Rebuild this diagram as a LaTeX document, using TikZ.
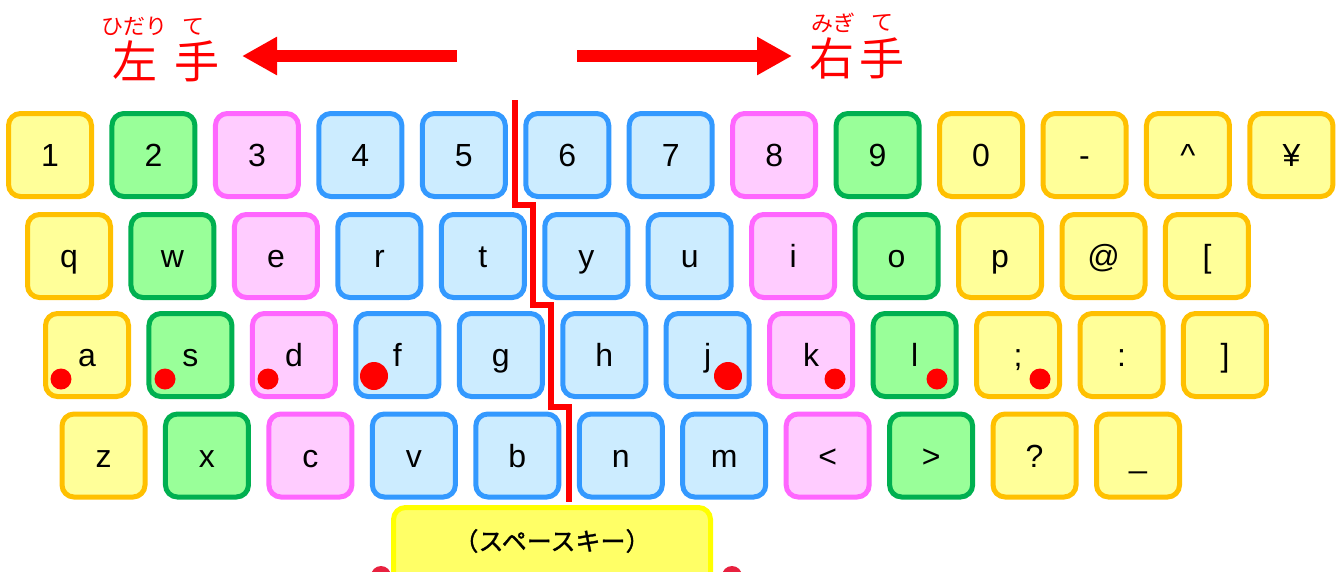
\documentclass[tikz,border=0pt]{standalone}
\usepackage{fontspec}
\setmainfont{Liberation Sans}
\newfontfamily\jpfont{Noto Sans CJK JP}
\newfontfamily\jpboldfont[FakeBold=1.3]{Noto Sans CJK JP}
\usetikzlibrary{arrows.meta}
\definecolor{yBd}{HTML}{FFC000}
\definecolor{yFl}{HTML}{FFFF99}
\definecolor{gBd}{HTML}{00B050}
\definecolor{gFl}{HTML}{99FF99}
\definecolor{pBd}{HTML}{FF66FF}
\definecolor{pFl}{HTML}{FFCCFF}
\definecolor{bBd}{HTML}{3399FF}
\definecolor{bFl}{HTML}{CCECFF}
\definecolor{sBd}{HTML}{FFFF00}
\definecolor{sFl}{HTML}{FFFF66}
\definecolor{blob}{HTML}{E8213F}
\tikzset{
  keybase/.style={rectangle, rounded corners=12pt, line width=5pt, minimum width=83pt, minimum height=83pt, inner sep=0pt,
    text height=23pt, text depth=0pt, font=\fontsize{32}{32}\selectfont},
  keyY/.style={keybase, draw=yBd, fill=yFl},
  keyG/.style={keybase, draw=gBd, fill=gFl},
  keyP/.style={keybase, draw=pBd, fill=pFl},
  keyB/.style={keybase, draw=bBd, fill=bFl},
  homedot/.style={circle, fill=red, inner sep=0pt, minimum size=21pt},
  bigdot/.style={circle, fill=red, inner sep=0pt, minimum size=28pt},
  bigkanji/.style={text=red, inner sep=0pt, font=\jpfont\fontsize{45}{45}\selectfont},
  rubytext/.style={text=red, inner sep=0pt, font=\jpfont\fontsize{22}{22}\selectfont},
  handarrow/.style={red, line width=12pt, -{Triangle[length=35pt,width=36pt]}},
  divider/.style={red, line width=6pt, line join=miter},
}
\begin{document}
\begin{tikzpicture}[x=1pt,y=-1pt]
\useasboundingbox (0,0) rectangle (1339,571);
\clip (0,0) rectangle (1339,571);
\fill[white] (0,0) rectangle (1339,571);

% headings
\node[rubytext] (rhidari) at (134,26.5) {ひだり};
\node[rubytext] (rte1) at (193.5,26.5) {て};
\node[bigkanji] (khidari) at (135,61) {左};
\node[bigkanji] (kte1) at (197,61) {手};
\node[rubytext] (rmigi) at (833.5,22.5) {みぎ};
\node[rubytext] (rte2) at (882.5,22.5) {て};
\node[bigkanji] (kmigi) at (832,58.5) {右};
\node[bigkanji] (kte2) at (882,58.5) {手};

\coordinate (la0) at (457,56);
\coordinate (la1) at (242,56);
\coordinate (ra0) at (577,56);
\coordinate (ra1) at (792,56);
\draw[handarrow] (la0) -- (la1);
\draw[handarrow] (ra0) -- (ra1);

% row 1
\node[keyY] (k1) at ({50+103.45*0},155) {1};
\node[keyG] (k2) at ({50+103.45*1},155) {2};
\node[keyP] (k3) at ({50+103.45*2},155) {3};
\node[keyB] (k4) at ({50+103.45*3},155) {4};
\node[keyB] (k5) at ({50+103.45*4},155) {5};
\node[keyB] (k6) at ({50+103.45*5},155) {6};
\node[keyB] (k7) at ({50+103.45*6},155) {7};
\node[keyP] (k8) at ({50+103.45*7},155) {8};
\node[keyG] (k9) at ({50+103.45*8},155) {9};
\node[keyY] (k0) at ({50+103.45*9},155) {0};
\node[keyY] (kminus) at ({50+103.45*10},155) {-};
\node[keyY] (kcaret) at ({50+103.45*11},155) {\textasciicircum};
\node[keyY] (kyen) at ({50+103.45*12},155) {¥};

% row 2
\node[keyY] (kq) at ({69+103.45*0},256) {q};
\node[keyG] (kw) at ({69+103.45*1},256) {w};
\node[keyP] (ke) at ({69+103.45*2},256) {e};
\node[keyB] (kr) at ({69+103.45*3},256) {r};
\node[keyB] (kt) at ({69+103.45*4},256) {t};
\node[keyB] (ky) at ({69+103.45*5},256) {y};
\node[keyB] (ku) at ({69+103.45*6},256) {u};
\node[keyP] (ki) at ({69+103.45*7},256) {i};
\node[keyG] (ko) at ({69+103.45*8},256) {o};
\node[keyY] (kp) at ({69+103.45*9},256) {p};
\node[keyY] (kat) at ({69+103.45*10},256) {@};
\node[keyY] (klbr) at ({69+103.45*11},256) {[};

% row 3
\node[keyY] (ka) at ({87+103.45*0},355) {a};
\node[keyG] (ks) at ({87+103.45*1},355) {s};
\node[keyP] (kd) at ({87+103.45*2},355) {d};
\node[keyB] (kf) at ({87+103.45*3},355) {f};
\node[keyB] (kg) at ({87+103.45*4},355) {g};
\node[keyB] (kh) at ({87+103.45*5},355) {h};
\node[keyB] (kj) at ({87+103.45*6},355) {j};
\node[keyP] (kk) at ({87+103.45*7},355) {k};
\node[keyG] (kl) at ({87+103.45*8},355) {l};
\node[keyY] (ksemi) at ({87+103.45*9},355) {;};
\node[keyY] (kcolon) at ({87+103.45*10},355) {:};
\node[keyY] (krbr) at ({87+103.45*11},355) {]};

% row 4
\node[keyY] (kz) at ({103.5+103.45*0},455.5) {z};
\node[keyG] (kx) at ({103.5+103.45*1},455.5) {x};
\node[keyP] (kc) at ({103.5+103.45*2},455.5) {c};
\node[keyB] (kv) at ({103.5+103.45*3},455.5) {v};
\node[keyB] (kb) at ({103.5+103.45*4},455.5) {b};
\node[keyB] (kn) at ({103.5+103.45*5},455.5) {n};
\node[keyB] (km) at ({103.5+103.45*6},455.5) {m};
\node[keyP] (klt) at ({103.5+103.45*7},455.5) {<};
\node[keyG] (kgt) at ({103.5+103.45*8},455.5) {>};
\node[keyY] (kq2) at ({103.5+103.45*9},455.5) {?};
\node[keyY] (kus) at ({103.5+103.45*10},455.5) {\_};

% home-position dots
\node[homedot] (da) at (61,379) {};
\node[homedot] (ds) at (165,379) {};
\node[homedot] (dd) at (268,379) {};
\node[bigdot] (df) at (374,376) {};
\node[bigdot] (dj) at (728,376) {};
\node[homedot] (dk) at (835,379) {};
\node[homedot] (dl) at (937,379) {};
\node[homedot] (dsemi) at (1040,379) {};

% divider
\coordinate (v0) at (515,100);
\coordinate (v1) at (515,205);
\coordinate (v2) at (533,205);
\coordinate (v3) at (533,305);
\coordinate (v4) at (551,305);
\coordinate (v5) at (551,407);
\coordinate (v6) at (569,407);
\coordinate (v7) at (569,502);
\draw[divider] (v0) -- (v1) -- (v2) -- (v3) -- (v4) -- (v5) -- (v6) -- (v7);

% space bar
\draw[draw=sBd, fill=sFl, line width=5pt, rounded corners=12pt] (393.5,507.5) rectangle (710.5,620);
\node[inner sep=0pt, font=\jpboldfont\fontsize{25}{25}\selectfont] (space) at (552,541) {（スペースキー）};

% partly visible blobs at the bottom edge
\fill[blob] (381,576) circle (10);
\fill[blob] (732,576) circle (10);
\end{tikzpicture}
\end{document}
